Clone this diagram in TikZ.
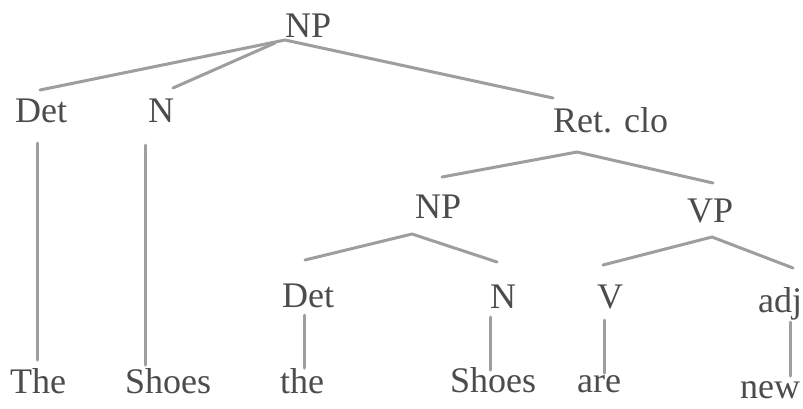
\documentclass[tikz,border=0pt]{standalone}
\usepackage{fontspec}
\setmainfont{Liberation Serif}
\begin{document}
\begin{tikzpicture}[x=1pt,y=-1pt,
  lbl/.style={anchor=base west,inner sep=0pt,text=black!70,font=\fontsize{36}{40}\selectfont},
  br/.style={draw=black!38,line width=3pt,line cap=round,line join=round}]
\fill[white] (0,0) rectangle (803,408);
\useasboundingbox (0,0) rectangle (803,408);
% nodes
\node[lbl] (np) at (285,37) {NP};
\node[lbl] (det) at (15,122) {Det};
\node[lbl] (n) at (148,122) {N};
\node[lbl] (ret) at (553,132) {Ret. clo};
\node[lbl] (np2) at (415,218) {NP};
\node[lbl] (vp) at (687,222) {VP};
\node[lbl] (det2) at (282,307) {Det};
\node[lbl] (n2) at (490,308) {N};
\node[lbl] (v) at (597,308) {V};
\node[lbl] (adj) at (758,312) {adj};
\node[lbl] (the) at (10,393) {The};
\node[lbl] (shoes) at (125,393) {Shoes};
\node[lbl] (the2) at (280,393) {the};
\node[lbl] (shoes2) at (450,392) {Shoes};
\node[lbl] (are) at (577,392) {are};
\node[lbl] (new) at (740,398) {new};
% branch points
\coordinate (npA) at (285,40);
\coordinate (npB) at (275,43);
\coordinate (detT) at (40,90);
\coordinate (nT) at (173,88);
\coordinate (retT) at (553,98);
\coordinate (retA) at (577,152);
\coordinate (np2T) at (442,177);
\coordinate (vpT) at (713,183);
\coordinate (np2A) at (412,234);
\coordinate (det2T) at (305,260);
\coordinate (n2T) at (497,262);
\coordinate (vpA) at (712,237);
\coordinate (vT) at (603,265);
\coordinate (adjT) at (793,268);
% unary end points
\coordinate (detB) at (37,143);  \coordinate (theT) at (37,360);
\coordinate (nB) at (145,145);   \coordinate (shoesT) at (145,365);
\coordinate (det2B) at (304,315);\coordinate (the2T) at (304,368);
\coordinate (n2B) at (490,317);  \coordinate (shoes2T) at (490,370);
\coordinate (vB) at (604,320);   \coordinate (areT) at (604,373);
\coordinate (adjB) at (790,322); \coordinate (newT) at (790,376);
% branches
\draw[br] (detT) -- (npA) -- (retT);
\draw[br] (nT) -- (npB);
\draw[br] (np2T) -- (retA) -- (vpT);
\draw[br] (det2T) -- (np2A) -- (n2T);
\draw[br] (vT) -- (vpA) -- (adjT);
% unary
\draw[br] (detB) -- (theT);
\draw[br] (nB) -- (shoesT);
\draw[br] (det2B) -- (the2T);
\draw[br] (n2B) -- (shoes2T);
\draw[br] (vB) -- (areT);
\draw[br] (adjB) -- (newT);
\end{tikzpicture}
\end{document}
